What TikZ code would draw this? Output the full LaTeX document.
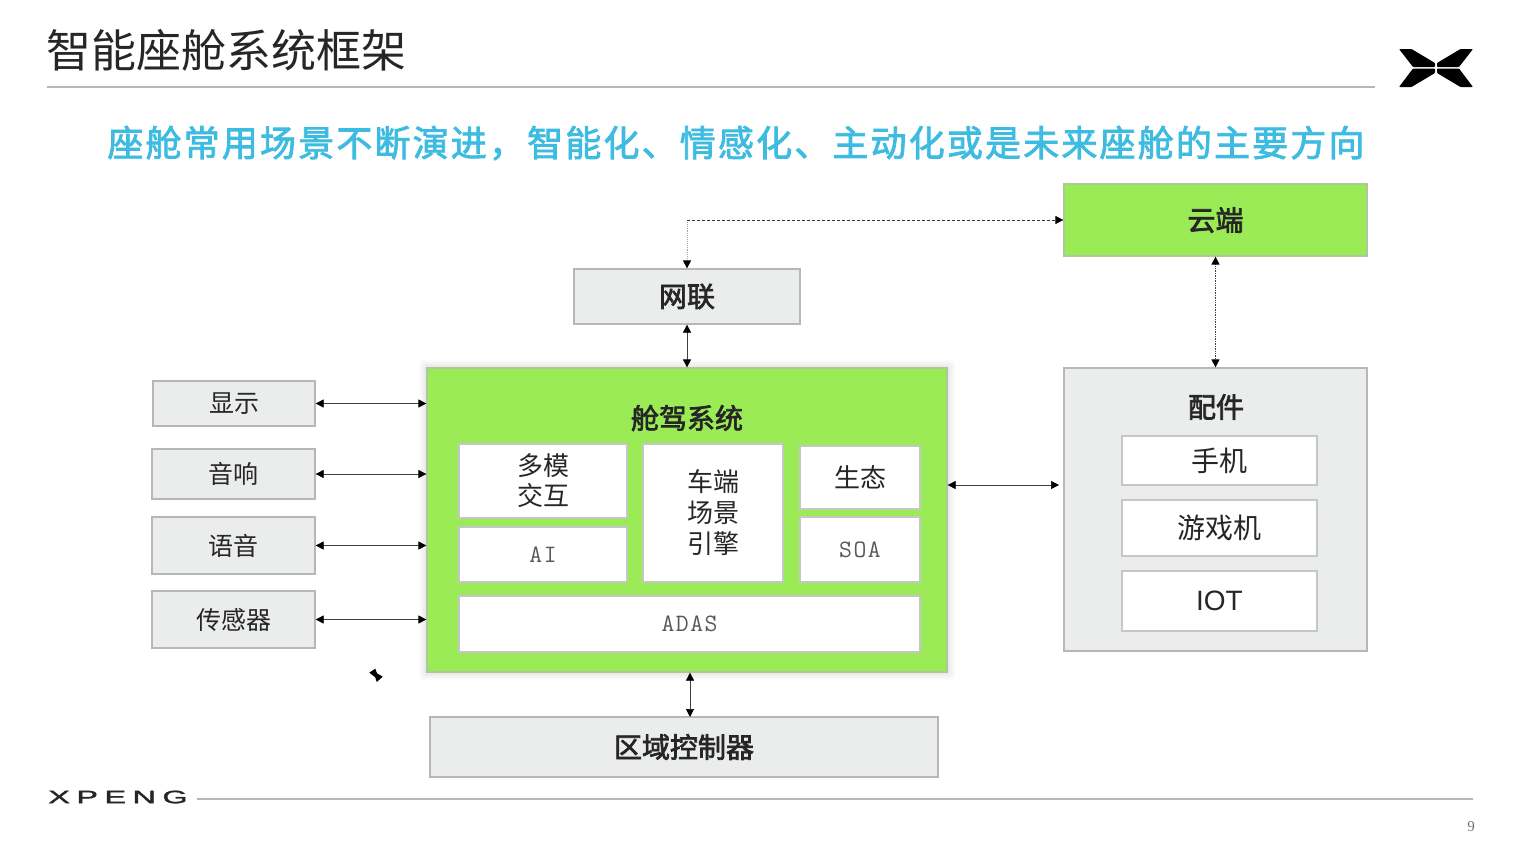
\documentclass[tikz,border=0pt]{standalone}
\usepackage{fontspec}
\setmainfont{Noto Sans CJK SC}
\setmonofont[LetterSpace=6]{Latin Modern Mono}
\newfontfamily\latinfont{Liberation Sans}
\newfontfamily\brandfont[LetterSpace=20,FakeBold=1.5]{Liberation Sans}
\newfontfamily\numfont{Liberation Serif}
\newfontfamily\midfont[FakeBold=2.5]{Noto Sans CJK SC}
\newfontfamily\slogfont[FakeBold=2.2,LetterSpace=6]{Noto Sans CJK SC}
\usetikzlibrary{arrows.meta,calc}
\definecolor{xpgreen}{HTML}{9BEB57}
\definecolor{xpgray}{HTML}{EBECEC}
\definecolor{xpedge}{HTML}{B6B8B8}
\definecolor{xpcyan}{HTML}{3DBBE0}
\tikzset{
  greybox/.style={draw=xpedge,line width=1.2pt,fill=xpgray,inner sep=0pt,align=center,font=\fontsize{25}{30}\selectfont,text=black!85},
  greenbox/.style={greybox,draw=xpedge!70!xpgreen,fill=xpgreen},
  whitebox/.style={greybox,fill=white,draw=xpedge!80,font=\fontsize{26}{31}\selectfont},
  headtext/.style={font=\midfont\fontsize{28}{32}\selectfont,text=black!85},
  slabtext/.style={font=\ttfamily\fontsize{25}{28}\selectfont,text=black!65},
  link/.style={<->,>={Triangle[length=8pt,width=8pt,color=black]},line width=0.7pt,black!75},
}
\newcommand{\boxat}[6][greybox]{\node[#1,minimum width=#4pt-#2pt,minimum height=#5pt-#3pt] (#6) at ({(#2+#4)/2},{(#3+#5)/2})}
\begin{document}
\begin{tikzpicture}[x=1pt,y=-1pt]
  \useasboundingbox (0,0) rectangle (1516,852);
  % header
  \node[font=\fontsize{45}{50}\selectfont,text=black!85] (title) at (226,50) {智能座舱系统框架};
  \node[font=\slogfont\fontsize{36}{40}\selectfont,text=xpcyan] (slogan) at (736,143) {座舱常用场景不断演进，智能化、情感化、主动化或是未来座舱的主要方向};
  \draw[xpedge,line width=1.2pt] (47,87) -- (1375,87);
  % logo
  \fill[black,rounded corners=0.8pt] (1399,49) -- (1411.5,49) -- (1435,63) -- (1435,67) -- (1413,67) -- cycle;
  \fill[black,rounded corners=0.8pt] (1413,68.5) -- (1435,68.5) -- (1435,73) -- (1411.5,87) -- (1399,87) -- cycle;
  \fill[black,rounded corners=0.8pt] (1473,49) -- (1460.5,49) -- (1437,63) -- (1437,67) -- (1459,67) -- cycle;
  \fill[black,rounded corners=0.8pt] (1459,68.5) -- (1437,68.5) -- (1437,73) -- (1460.5,87) -- (1473,87) -- cycle;
  % main block
  \foreach \r in {1,...,8}
    \fill[black,opacity=0.012,rounded corners=3pt] (427-\r,368-\r) rectangle (947+\r,672+\r);
  \boxat[greenbox]{427}{368}{947}{672}{cockpit} {};
  \node[headtext] (cockpitlabel) at (687,418) {舱驾系统};
  \boxat[whitebox]{459}{444}{627}{518}{multimodal} {多模\\[-1pt]交互};
  \boxat[whitebox]{643}{444}{783}{582}{engine} {车端\\场景\\引擎};
  \boxat[whitebox]{800}{446}{920}{509}{ecology} {生态};
  \boxat[whitebox,slabtext]{459}{527}{627}{582}{ai} {AI};
  \boxat[whitebox,slabtext]{800}{517}{920}{582}{soa} {SOA};
  \boxat[whitebox,slabtext]{459}{596}{920}{652}{adas} {ADAS};
  % top and bottom
  \boxat[greenbox,headtext]{1064}{184}{1367}{256}{cloud} {云端};
  \boxat[greybox,headtext]{574}{269}{800}{324}{network} {网联};
  \boxat[greybox,headtext]{430}{717}{938}{777}{zone} {区域控制器};
  % left column
  \boxat{153}{381}{315}{426}{display} {显示};
  \boxat{152}{449}{315}{499}{audio} {音响};
  \boxat{152}{517}{315}{574}{voice} {语音};
  \boxat{152}{591}{315}{648}{sensor} {传感器};
  % right column
  \boxat{1064}{368}{1367}{651}{parts} {};
  \node[headtext] (partslabel) at (1216,407) {配件};
  \boxat[whitebox,font=\fontsize{28}{32}\selectfont]{1122}{436}{1317}{485}{phone} {手机};
  \boxat[whitebox,font=\fontsize{28}{32}\selectfont]{1122}{500}{1317}{556}{console} {游戏机};
  \boxat[whitebox,font=\latinfont\fontsize{28}{32}\selectfont]{1122}{571}{1317}{631}{iot} {IOT};
  % links
  \foreach \side in {display,audio,voice,sensor}
    \draw[link] (\side.east) -- (\side.east -| cockpit.west);
  \draw[link] (network.south) -- (network.south |- cockpit.north);
  \coordinate (zonetop) at (690,717);
  \draw[link] (zonetop) -- (zonetop |- cockpit.south);
  \coordinate (partsgap) at (1059,485);
  \draw[link] (cockpit.east |- partsgap) -- (partsgap);
  \draw[link,densely dotted,line width=0.8pt] (cloud.south) -- (parts.north);
  \coordinate (bend) at (network.north |- cloud.west);
  \draw[-{Triangle[length=8pt,width=8pt,color=black]},black!35,densely dotted,line width=0.9pt] (bend) -- (network.north);
  \draw[-{Triangle[length=8pt,width=8pt,color=black]},black!80,densely dashed,line width=0.7pt] (bend) -- (cloud.west);
  % cursor mark
  \fill[black] (369.3,672.7) -- (375.3,668.7) -- (377,673.3) -- (382.7,676.7) -- (376.7,682) -- (375.3,677.3) -- cycle;
  % footer
  \node[font=\brandfont\fontsize{18}{20}\selectfont,text=black!85,xscale=1.8,inner sep=0pt] (brand) at (118,797) {XPENG};
  \draw[xpedge,line width=1.2pt] (197,799) -- (1473,799);
  \node[font=\numfont\fontsize{15}{17}\selectfont,text=black!55] (pagenum) at (1471,827) {9};
\end{tikzpicture}
\end{document}
